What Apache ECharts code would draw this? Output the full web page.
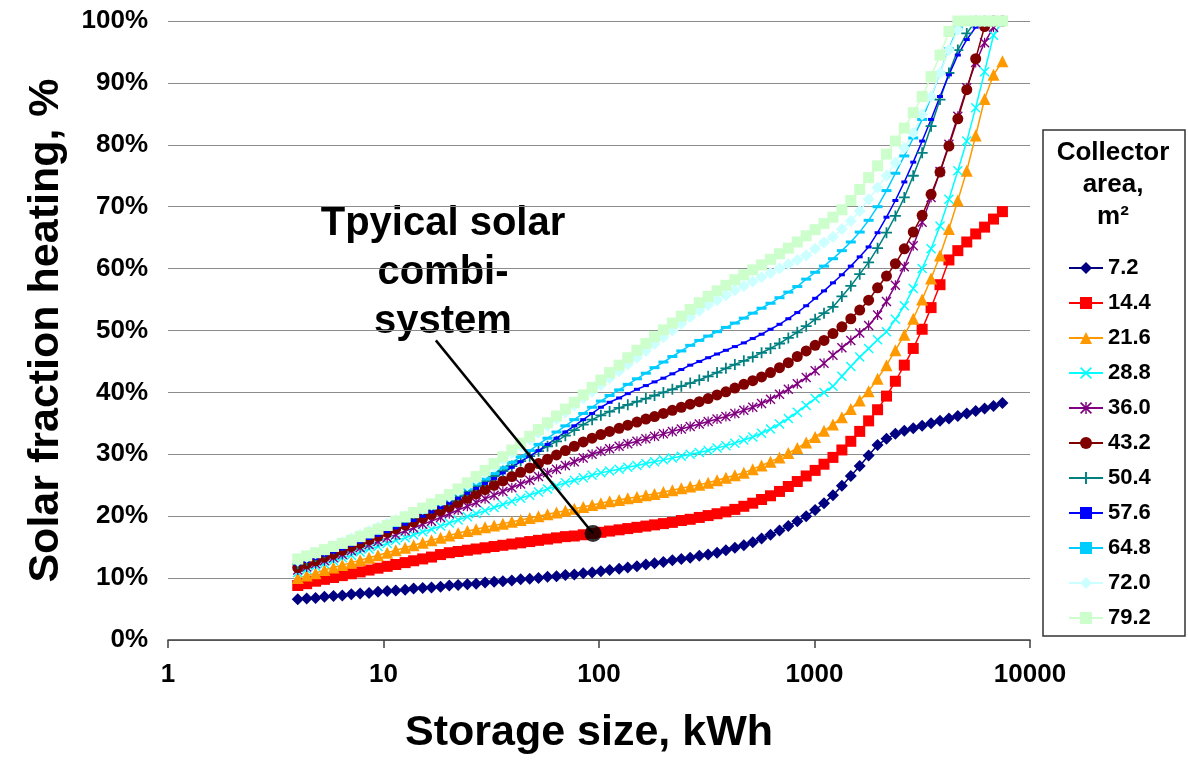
<!DOCTYPE html>
<html>

<head>
	<meta charset="UTF-8">
	<title>Solar fraction vs storage size</title>
	<style>
		html, body {
			margin: 0;
			padding: 0;
			background: #fff;
		}
		#chart1 {
			width: 1188px;
			height: 760px;
		}
	</style>
	<script src="https://cdn.jsdelivr.net/npm/echarts@6/dist/echarts.min.js"></script>
</head>

<body>
	<div id="chart1"></div>
	<script>
		var FONT = 'Liberation Sans, Arial, sans-serif';

		// storage size, kWh (one value per marker)
		var storage = [
			4, 4.4, 4.84, 5.32, 5.86, 6.44, 7.09, 7.79, 8.57, 9.43,
			10.4, 11.4, 12.6, 13.8, 15.2, 16.7, 18.4, 20.2, 22.2, 24.5,
			26.9, 29.6, 32.6, 35.8, 39.4, 43.3, 47.7, 52.4, 57.7, 63.5,
			69.8, 76.8, 84.5, 92.9, 102, 112, 124, 136, 150, 165,
			181, 199, 219, 241, 265, 292, 321, 353, 388, 427,
			470, 517, 568, 625, 688, 756, 832, 915, 1007, 1107,
			1218, 1340, 1474, 1621, 1783, 1962, 2158, 2373, 2611, 2872,
			3159, 3475, 3823, 4205, 4625, 5088, 5597, 6156, 6772, 7449
		];

		// solar fraction heating, % for each collector area
		var area72 = [
			6.6, 6.7, 6.8, 7.0, 7.1, 7.2, 7.4, 7.5, 7.6, 7.8,
			7.9, 8.0, 8.1, 8.3, 8.4, 8.5, 8.6, 8.8, 8.9, 9.0,
			9.1, 9.3, 9.4, 9.5, 9.6, 9.8, 9.9, 10.0, 10.2, 10.3,
			10.5, 10.6, 10.8, 10.9, 11.1, 11.3, 11.5, 11.7, 11.9, 12.2,
			12.4, 12.6, 12.9, 13.1, 13.3, 13.6, 13.8, 14.1, 14.5, 14.9,
			15.3, 15.8, 16.4, 17.0, 17.7, 18.4, 19.2, 20.0, 21.0, 22.1,
			23.4, 24.9, 26.5, 28.1, 29.8, 31.5, 32.5, 33.3, 33.8, 34.2,
			34.6, 35.0, 35.4, 35.8, 36.2, 36.6, 37.0, 37.4, 37.8, 38.3
		];
		var area144 = [
			8.8, 9.1, 9.5, 9.8, 10.1, 10.4, 10.7, 11.0, 11.3, 11.6,
			11.9, 12.2, 12.5, 12.8, 13.1, 13.4, 13.8, 14.1, 14.3, 14.5,
			14.7, 14.9, 15.1, 15.3, 15.5, 15.7, 15.9, 16.1, 16.3, 16.5,
			16.7, 16.8, 17.0, 17.2, 17.4, 17.6, 17.8, 18.0, 18.2, 18.4,
			18.6, 18.8, 19.0, 19.3, 19.5, 19.8, 20.1, 20.4, 20.7, 21.1,
			21.6, 22.1, 22.7, 23.3, 24.0, 24.8, 25.6, 26.5, 27.4, 28.4,
			29.5, 30.7, 32.1, 33.7, 35.4, 37.2, 39.4, 41.8, 44.4, 47.1,
			50.2, 53.7, 57.4, 61.4, 62.9, 64.3, 65.6, 66.7, 68.0, 69.2
		];
		var area216 = [
			10.0, 10.4, 10.8, 11.3, 11.7, 12.1, 12.5, 12.9, 13.3, 13.7,
			14.1, 14.5, 14.9, 15.3, 15.7, 16.1, 16.5, 16.9, 17.3, 17.6,
			17.9, 18.2, 18.5, 18.8, 19.1, 19.4, 19.7, 20.0, 20.3, 20.6,
			20.9, 21.2, 21.5, 21.8, 22.1, 22.4, 22.6, 22.9, 23.1, 23.4,
			23.6, 23.9, 24.2, 24.5, 24.8, 25.1, 25.4, 25.8, 26.2, 26.6,
			27.0, 27.6, 28.2, 28.8, 29.5, 30.2, 31.0, 31.9, 32.8, 33.8,
			34.8, 36.0, 37.3, 38.7, 40.2, 42.2, 44.4, 46.8, 49.3, 51.9,
			55.0, 58.4, 62.1, 66.4, 71.0, 75.8, 81.5, 87.4, 91.3, 93.5
		];
		var area288 = [
			10.9, 11.4, 11.9, 12.3, 12.8, 13.3, 13.7, 14.2, 14.7, 15.1,
			15.6, 16.1, 16.5, 17.0, 17.5, 17.9, 18.4, 18.9, 19.4, 19.9,
			20.4, 20.9, 21.4, 21.9, 22.4, 22.9, 23.4, 23.9, 24.4, 24.9,
			25.4, 25.8, 26.2, 26.6, 27.0, 27.3, 27.6, 27.9, 28.2, 28.5,
			28.8, 29.1, 29.4, 29.7, 30.0, 30.3, 30.6, 31.0, 31.4, 31.8,
			32.3, 32.8, 33.4, 34.1, 34.9, 35.8, 36.8, 37.9, 39.0, 40.0,
			41.0, 42.6, 44.2, 45.7, 47.1, 48.5, 49.8, 51.8, 54.0, 56.8,
			60.0, 63.2, 66.9, 71.2, 75.8, 80.6, 86.0, 91.8, 97.7, 100
		];
		var area360 = [
			11.3, 11.8, 12.3, 12.8, 13.3, 13.8, 14.4, 14.9, 15.4, 15.9,
			16.5, 17.0, 17.6, 18.1, 18.7, 19.2, 19.8, 20.4, 21.0, 21.6,
			22.2, 22.8, 23.4, 24.0, 24.6, 25.2, 25.8, 26.4, 27.0, 27.6,
			28.2, 28.8, 29.4, 30.0, 30.5, 30.9, 31.3, 31.7, 32.1, 32.5,
			32.9, 33.3, 33.7, 34.1, 34.5, 34.9, 35.3, 35.7, 36.1, 36.6,
			37.1, 37.6, 38.2, 38.9, 39.7, 40.5, 41.4, 42.4, 43.5, 44.7,
			46.0, 47.2, 48.4, 49.6, 50.8, 52.5, 54.7, 57.3, 60.3, 63.7,
			67.5, 71.5, 75.7, 80.1, 84.6, 89.2, 93.3, 96.5, 99.0, 100
		];
		var area432 = [
			11.7, 12.3, 12.8, 13.4, 13.9, 14.5, 15.1, 15.6, 16.2, 16.8,
			17.4, 18.0, 18.6, 19.1, 19.7, 20.3, 20.9, 21.5, 22.2, 22.9,
			23.6, 24.3, 25.0, 25.7, 26.4, 27.1, 27.8, 28.5, 29.2, 29.9,
			30.6, 31.3, 32.0, 32.6, 33.2, 33.7, 34.2, 34.7, 35.2, 35.7,
			36.1, 36.6, 37.1, 37.6, 38.1, 38.5, 39.0, 39.6, 40.1, 40.7,
			41.3, 41.9, 42.5, 43.2, 44.0, 44.8, 45.8, 46.7, 47.6, 48.4,
			49.5, 50.6, 51.9, 53.3, 54.9, 56.9, 58.8, 60.8, 63.2, 65.9,
			68.6, 72.0, 75.6, 79.8, 84.2, 88.9, 93.9, 99.1, 100, 100
		];
		var area504 = [
			12.3, 12.9, 13.5, 14.1, 14.7, 15.3, 15.9, 16.5, 17.1, 17.7,
			18.3, 18.9, 19.5, 20.1, 20.7, 21.3, 21.9, 22.5, 23.3, 24.1,
			24.9, 25.7, 26.5, 27.3, 28.1, 28.9, 29.7, 30.5, 31.3, 32.1,
			33.0, 33.9, 34.8, 35.6, 36.3, 36.9, 37.5, 38.0, 38.5, 39.0,
			39.5, 40.0, 40.5, 41.0, 41.5, 42.0, 42.6, 43.2, 43.9, 44.5,
			45.1, 45.7, 46.4, 47.1, 47.9, 48.8, 49.7, 50.7, 51.8, 52.8,
			53.8, 55.5, 57.2, 59.1, 61.0, 63.3, 65.8, 68.5, 71.5, 75.0,
			78.7, 83.0, 87.3, 91.6, 95.3, 98.0, 100, 100, 100, 100
		];
		var area576 = [
			12.2, 12.7, 13.2, 13.7, 14.2, 14.7, 15.3, 15.8, 16.4, 16.9,
			17.5, 18.1, 18.7, 19.3, 20.0, 20.7, 21.4, 22.1, 22.9, 23.7,
			24.5, 25.3, 26.1, 27.0, 27.9, 28.8, 29.7, 30.6, 31.6, 32.6,
			33.6, 34.6, 35.6, 36.6, 37.6, 38.4, 39.1, 39.8, 40.5, 41.1,
			41.7, 42.3, 43.0, 43.7, 44.4, 45.0, 45.6, 46.2, 46.8, 47.4,
			48.0, 48.7, 49.4, 50.2, 51.0, 51.9, 52.9, 54.0, 55.2, 56.4,
			57.7, 59.0, 60.4, 61.9, 63.5, 65.8, 68.3, 71.0, 74.0, 77.2,
			80.6, 84.1, 87.8, 91.3, 94.5, 97.0, 99.0, 100, 100, 100
		];
		var area648 = [
			12.5, 13.0, 13.5, 14.0, 14.5, 15.0, 15.6, 16.1, 16.7, 17.3,
			17.9, 18.5, 19.2, 19.9, 20.6, 21.3, 22.0, 22.8, 23.6, 24.4,
			25.2, 26.0, 26.9, 27.8, 28.7, 29.6, 30.6, 31.6, 32.6, 33.6,
			34.6, 35.6, 36.6, 37.6, 38.6, 39.5, 40.4, 41.3, 42.2, 43.1,
			44.0, 44.9, 45.8, 46.7, 47.6, 48.4, 49.1, 49.8, 50.5, 51.2,
			52.0, 52.8, 53.6, 54.4, 55.3, 56.2, 57.1, 58.3, 59.4, 60.4,
			61.6, 62.9, 64.3, 65.9, 67.8, 70.0, 72.6, 75.4, 78.2, 81.1,
			84.1, 87.7, 91.6, 95.5, 99.0, 100, 100, 100, 100, 100
		];
		var area720 = [
			12.8, 13.4, 14.0, 14.6, 15.2, 15.8, 16.4, 17.0, 17.6, 18.2,
			18.8, 19.4, 20.0, 20.6, 21.2, 21.9, 22.5, 23.2, 24.1, 25.0,
			26.0, 27.0, 28.0, 29.1, 30.2, 31.3, 32.4, 33.5, 34.6, 35.7,
			36.8, 37.9, 39.0, 40.1, 41.2, 42.3, 43.4, 44.5, 45.6, 46.7,
			47.8, 48.9, 50.0, 51.1, 52.2, 53.2, 54.1, 54.9, 55.7, 56.5,
			57.2, 57.9, 58.6, 59.3, 60.0, 60.7, 61.4, 62.1, 63.2, 64.2,
			65.1, 66.4, 67.7, 69.3, 71.2, 73.1, 75.0, 77.1, 79.5, 81.9,
			84.9, 87.8, 91.6, 95.3, 98.6, 100, 100, 100, 100, 100
		];
		var area792 = [
			13.1, 13.6, 14.1, 14.6, 15.1, 15.6, 16.1, 16.7, 17.3, 17.9,
			18.5, 19.2, 19.9, 20.6, 21.3, 22.0, 22.7, 23.5, 24.4, 25.4,
			26.4, 27.4, 28.5, 29.6, 30.7, 31.8, 32.9, 34.0, 35.1, 36.2,
			37.3, 38.4, 39.6, 40.8, 42.0, 43.2, 44.4, 45.6, 46.8, 47.9,
			49.0, 50.1, 51.2, 52.3, 53.4, 54.5, 55.5, 56.4, 57.3, 58.2,
			59.0, 59.8, 60.6, 61.5, 62.4, 63.3, 64.3, 65.3, 66.3, 67.3,
			68.3, 69.5, 71.0, 72.8, 74.7, 76.6, 78.5, 80.6, 82.7, 85.2,
			87.8, 91.0, 94.5, 98.3, 100, 100, 100, 100, 100, 100
		];

		var areaNames = ['7.2', '14.4', '21.6', '28.8', '36.0', '43.2', '50.4', '57.6', '64.8', '72.0', '79.2'];
		var areaValues = [area72, area144, area216, area288, area360, area432, area504, area576, area648, area720, area792];

		// callout: typical solar combi-system (kWh, %)
		var calloutPoint = [93.8, 17.2];
		var calloutFrom = [17.5, 48.4];

		var xTicks = [1, 10, 100, 1000, 10000];

		// marker shapes
		var X_MARK = 'path://M1,0 L5,4 L9,0 L10,1 L6,5 L10,9 L9,10 L5,6 L1,10 L0,9 L4,5 L0,1 Z';
		var STAR_MARK = 'path://M1,0 L5,4 L9,0 L10,1 L6,5 L10,9 L9,10 L5,6 L1,10 L0,9 L4,5 L0,1 Z M4.4,0 L5.6,0 L5.6,10 L4.4,10 Z';
		var PLUS_MARK = 'path://M4.2,0 L5.8,0 L5.8,4.2 L10,4.2 L10,5.8 L5.8,5.8 L5.8,10 L4.2,10 L4.2,5.8 L0,5.8 L0,4.2 L4.2,4.2 Z';

		var styles = [
			{ color: '#000080', symbol: 'diamond', size: 12 },
			{ color: '#ff0000', symbol: 'rect', size: 11 },
			{ color: '#ff9900', symbol: 'triangle', size: 12 },
			{ color: '#00ffff', symbol: X_MARK, size: 10 },
			{ color: '#800080', symbol: STAR_MARK, size: 10 },
			{ color: '#800000', symbol: 'circle', size: 11 },
			{ color: '#008080', symbol: PLUS_MARK, size: 11 },
			{ color: '#0000ff', symbol: 'rect', size: [6, 3] },
			{ color: '#00ccff', symbol: 'rect', size: [10, 3] },
			{ color: '#ccffff', symbol: 'diamond', size: 12 },
			{ color: '#ccffcc', symbol: 'rect', size: 11 }
		];

		var series = [];
		for (var s = 0; s < areaNames.length; s++) {
			var pts = [];
			for (var i = 0; i < storage.length; i++) {
				pts.push([storage[i], areaValues[s][i]]);
			}
			series.push({
				name: areaNames[s],
				type: 'line',
				data: pts,
				symbol: styles[s].symbol,
				symbolSize: styles[s].size,
				showSymbol: true,
				lineStyle: { color: styles[s].color, width: 1.5 },
				itemStyle: { color: styles[s].color },
				emphasis: { disabled: true }
			});
		}

		// black dot + pointer line
		series.push({
			name: 'callout',
			type: 'scatter',
			data: [calloutPoint],
			symbol: 'circle',
			symbolSize: 17,
			itemStyle: { color: '#000' },
			z: 5,
			markLine: {
				silent: true,
				symbol: 'none',
				label: { show: false },
				lineStyle: { color: '#000', width: 2.5, type: 'solid' },
				data: [[{ coord: calloutFrom }, { coord: calloutPoint }]]
			}
		});

		var myChart = echarts.init(document.getElementById('chart1'));
		myChart.setOption({
			animation: false,
			textStyle: { fontFamily: FONT },
			grid: { left: 168, right: 158, top: 21, bottom: 117 },
			xAxis: {
				type: 'log',
				logBase: 10,
				min: xTicks[0],
				max: xTicks[xTicks.length - 1],
				name: 'Storage size, kWh',
				nameLocation: 'middle',
				nameGap: 72,
				nameTextStyle: { fontFamily: FONT, fontSize: 43, fontWeight: 'bold', color: '#000', padding: [0, 20, 0, 0] },
				axisLine: { lineStyle: { color: '#404040', width: 1.5 } },
				axisTick: { show: true, length: 8, lineStyle: { color: '#404040', width: 1.5 } },
				minorTick: { show: false },
				splitLine: { show: false },
				axisLabel: {
					fontFamily: FONT, fontSize: 26, fontWeight: 'bold', color: '#000', margin: 22,
					formatter: function (v) { return String(Math.round(v)); }
				}
			},
			yAxis: {
				type: 'value',
				min: 0,
				max: 100,
				interval: 10,
				name: 'Solar fraction heating, %',
				nameLocation: 'middle',
				nameGap: 100,
				nameTextStyle: { fontFamily: FONT, fontSize: 43, fontWeight: 'bold', color: '#000' },
				axisLine: { show: false },
				axisTick: { show: false },
				splitLine: { lineStyle: { color: '#8c8c8c', width: 1 } },
				axisLabel: { fontFamily: FONT, fontSize: 26, fontWeight: 'bold', color: '#000', margin: 20, formatter: '{value}%' }
			},
			legend: {
				data: areaNames,
				orient: 'vertical',
				left: 1063,
				top: 252,
				itemWidth: 34,
				itemHeight: 15,
				itemGap: 13,
				textStyle: { fontFamily: FONT, fontSize: 22, fontWeight: 'bold', color: '#000', lineHeight: 22 }
			},
			graphic: [
				{
					type: 'rect',
					shape: { x: 1043, y: 130, width: 142, height: 506 },
					style: { fill: '#fff', stroke: '#333', lineWidth: 1.5 },
					z: -1
				},
				{
					type: 'text',
					x: 1113,
					y: 137,
					style: {
						text: 'Collector\narea,\nm²',
						fontFamily: FONT,
						fontSize: 26,
						fontWeight: 'bold',
						lineHeight: 32,
						textAlign: 'center',
						textVerticalAlign: 'top',
						fill: '#000'
					}
				},
				{
					type: 'text',
					x: 443,
					y: 199,
					style: {
						text: 'Tpyical solar\ncombi-\nsystem',
						fontFamily: FONT,
						fontSize: 40,
						fontWeight: 'bold',
						lineHeight: 49,
						textAlign: 'center',
						textVerticalAlign: 'top',
						fill: '#000'
					}
				}
			],
			series: series
		});
	</script>
</body>

</html>
